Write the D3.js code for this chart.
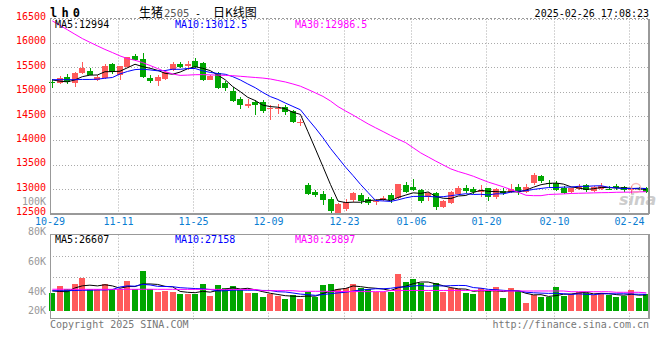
<!DOCTYPE html>
<html><head><meta charset="utf-8">
<script src="https://cdn.jsdelivr.net/npm/d3@7"></script>
<style>
body{margin:0;background:#fff}
svg{display:block}
text{font-family:"DejaVu Sans Mono","Liberation Mono",monospace;font-size:10px}
</style>
</head><body><svg id="c" width="660" height="360"></svg>
<script>
const dates = ["10-29","10-30","10-31","11-01","11-04","11-05","11-06","11-07","11-08","11-11","11-12","11-13","11-14","11-15","11-18","11-19","11-20","11-21","11-22","11-25","11-26","11-27","11-28","11-29","12-02","12-03","12-04","12-05","12-06","12-09","12-10","12-11","12-12","12-13","12-16","12-17","12-18","12-19","12-20","12-23","12-24","12-25","12-26","12-27","12-30","12-31","01-02","01-03","01-06","01-07","01-08","01-09","01-10","01-13","01-14","01-15","01-16","01-17","01-20","01-21","01-22","01-23","01-24","01-27","02-05","02-06","02-07","02-10","02-11","02-12","02-13","02-14","02-17","02-18","02-19","02-20","02-21","02-24","02-25","02-26"];
const open = [15195,15177,15294,15177,15382,15430,15245,15280,15573,15347,
 15499,15725,15669,15286,15224,15253,15444,15561,15526,15634,
 15579,15239,15376,15171,15013,14843,14699,14781,14787,14650,
 14640,14685,14596,14370,13091,12941,12907,12791,12517,12593,
 12778,12880,12791,12740,12770,12870,12820,13085,13050,12982,
 12845,12915,12627,12709,12900,13030,12996,12948,13016,12830,
 12969,12948,13050,12948,13120,13270,13135,13119,13016,12948,
 12996,13085,12969,12996,13010,13071,13050,12990,13030,13030];
const high = [15265,15327,15362,15403,15608,15485,15335,15567,15587,15530,
 15710,15772,15792,15341,15341,15423,15602,15614,15634,15696,
 15602,15340,15409,15218,15101,14890,14843,14822,14822,14732,
 14753,14720,14617,14445,13132,12989,12955,12839,12722,12800,
 12950,12920,12840,12800,12850,12920,13110,13140,13208,13000,
 12950,12948,12780,12960,13070,13080,13040,13075,13030,13030,
 13020,13106,13100,13100,13325,13300,13190,13160,13060,13030,
 13110,13110,13060,13130,13060,13100,13070,13060,13050,13050];
const low = [15075,15157,15157,15089,15362,15335,15224,15265,15368,15245,
 15490,15634,15280,15171,15122,15240,15430,15479,15444,15491,
 15218,15230,15048,15013,14794,14650,14664,14527,14560,14412,
 14547,14520,14357,14295,12874,12839,12681,12517,12500,12560,
 12740,12700,12680,12680,12750,12720,12800,12920,12960,12720,
 12760,12572,12610,12700,12880,12920,12900,12845,12760,12800,
 12880,12930,12880,12920,13085,13130,13050,12960,12900,12930,
 12990,12940,12950,12980,12980,12990,12950,12900,12980,12930];
const close = [15190,15280,15198,15382,15485,15347,15294,15532,15397,15520,
 15704,15655,15294,15224,15306,15397,15567,15511,15567,15511,
 15239,15327,15068,15068,14814,14720,14746,14732,14603,14665,
 14655,14582,14377,14385,12894,12874,12771,12545,12689,12743,
 12915,12763,12710,12750,12820,12770,13100,12948,12982,12763,
 12915,12640,12763,12948,13030,12969,12948,12982,12845,13000,
 12915,12996,12948,13037,13300,13173,13130,12982,12928,13016,
 13064,12982,13050,13064,12995,13030,12990,13000,13000,12950];
const volume = [30100,41800,35600,45100,55100,35600,35600,45100,35600,35600,
 49600,35600,66800,35600,31700,33400,31700,28400,28400,28400,
 45100,24500,42900,38400,41200,34500,30100,30100,22800,27800,
 24500,20000,26200,20000,31700,23400,42900,44500,36200,38400,
 44500,37300,35600,31700,31700,31700,61300,47900,52900,45600,
 31700,46200,31700,37300,35600,29500,27800,37300,33400,39500,
 21700,37900,32900,13400,26200,23400,23400,39500,25100,27800,
 31700,29500,26200,29500,25600,23400,24500,34500,21700,27800];
// moving averages: values before enough in-window data
const ma5Head = [15240,15215,15200,15240];
const ma10Head = [15245,15245,15245,15245,15250,15250,15255,15275,15290];
const ma30 = [16451,16361,16270,16178,16088,16012,15938,15866,15801,15733,
 15678,15643,15596,15536,15474,15413,15362,15333,15339,15347,
 15349,15343,15339,15333,15327,15315,15302,15290,15278,15259,
 15228,15198,15157,15111,15044,14974,14902,14808,14693,14603,
 14519,14428,14338,14258,14180,14100,14024,13953,13848,13743,
 13659,13575,13495,13415,13360,13315,13264,13202,13143,13095,
 13046,12991,12935,12874,12866,12866,12890,12896,12902,12911,
 12915,12919,12923,12927,12929,12935,12937,12939,12943,12948];
const volMa5Head = [32900,32100,31700,37900];
const volMa10Head = [33400,33400,33400,33700,34100,34200,34600,34600,35400];
const volMa30 = [35800,35800,35800,35700,35700,35700,35700,35700,35700,35700,
 35700,35700,35800,35800,35700,35700,35700,35600,35600,35600,
 35600,35600,35600,35600,35500,35500,35500,35400,33400,33400,
 33400,33400,33400,32400,32400,32400,32400,32200,32200,32000,
 32000,31900,31800,31800,31700,33800,33800,33800,33800,33800,
 33800,33800,33800,33800,33800,33800,33800,33800,33800,33800,
 32900,32900,32900,32900,32900,32900,32900,32900,32900,31700,
 31700,31700,31700,31700,31700,30700,30700,30700,30700,29897];
const priceTicks = [16500,16000,15500,15000,14500,14000,13500,13000,12500];
const volTicks = [100000,80000,60000,40000,20000];
const volTickLabels = ["100K","80K","60K","40K","20K"];
const dateTicks = ["10-29","11-11","11-25","12-09","12-23","01-06","01-20","02-10","02-24"];
const maLabels = ["MA5:12994","MA10:13012.5","MA30:12986.5"];
const volMaLabels = ["MA5:26607","MA10:27158","MA30:29897"];

function movingAvg(arr, n, head){
  return arr.map((_, i) => i < n-1 ? head[i] : d3.mean(arr.slice(i-n+1, i+1)));
}

const svg = d3.select("#c");
const L = 50, R = 649, pTop = 18.5, pBot = 213.5, vTop = 234.7, vBot = 318.3;
const x = d3.scalePoint().domain(dates).range([52.3, 646.3]);
const y = d3.scaleLinear().domain([12500,16500]).range([pBot, pTop]);
const yv = d3.scaleLinear().domain([0,100000]).range([310.7, 250.8]);
const yvLabel = d3.scaleLinear().domain([20000,100000]).range([321,201]);
const cx = d => Math.round(x(d));
const RED = "#ff5a5a", GREEN = "#00a600", GRID = "#aaa";

// header
svg.append("text").attr("x",50).attr("y",16.5).attr("font-weight","bold").style("font-size","12px")
  .attr("textLength",30).text("l h 0");
const title = svg.append("text").attr("y",17);
title.append("tspan").attr("x",139).style("font-family","'Noto Sans CJK SC'").style("font-size","12px").text("生猪");
title.append("tspan").attr("x",164).attr("fill","#555").style("font-size","10.5px").text("2505");
title.append("tspan").attr("x",195).style("font-size","10px").text("-");
title.append("tspan").attr("x",213).style("font-family","'Noto Sans CJK SC'").style("font-size","12px").text("日K线图");
svg.append("text").attr("x",649).attr("y",16.5).attr("text-anchor","end").text("2025-02-26 17:08:23");

// price grid
svg.append("g").selectAll("line").data(priceTicks.filter(t => t > 12500)).join("line")
  .attr("x1",L).attr("x2",R).attr("y1",d=>Math.round(y(d))+0.5).attr("y2",d=>Math.round(y(d))+0.5)
  .attr("stroke",GRID).attr("stroke-dasharray","1,2");
const vGrid = dateTicks.slice(1);
svg.append("g").selectAll("line").data(vGrid).join("line")
  .attr("x1",d=>cx(d)-1.5).attr("x2",d=>cx(d)-1.5).attr("y1",pTop).attr("y2",pBot)
  .attr("stroke",GRID).attr("stroke-dasharray","1,2");
// volume grid
[1,2].forEach(k=>{
  const yy = Math.round(vTop + (vBot - vTop) * k / 4) + 0.5;
  svg.append("line").attr("x1",L).attr("x2",R).attr("y1",yy).attr("y2",yy)
    .attr("stroke",GRID).attr("stroke-dasharray","1,2");
});
svg.append("g").selectAll("line").data(vGrid).join("line")
  .attr("x1",d=>cx(d)-1.5).attr("x2",d=>cx(d)-1.5).attr("y1",vTop).attr("y2",321)
  .attr("stroke",GRID).attr("stroke-dasharray","1,2");

// price axis labels
svg.append("g").selectAll("text").data(priceTicks).join("text")
  .attr("x",46).attr("y",d=>y(d)+1.5).attr("text-anchor","end").attr("fill","#f00").text(d=>d);
// volume axis labels
svg.append("g").selectAll("text").data(volTicks).join("text")
  .attr("x",46).attr("y",d=>Math.min(yvLabel(d),310)+3.5).attr("text-anchor","end").attr("fill","#999")
  .text((d,i)=>volTickLabels[i]);
// date labels
svg.append("g").selectAll("text").data(dateTicks).join("text")
  .attr("x",(d,i)=> i===0 ? L : cx(d)-1.5).attr("y",225).attr("text-anchor","middle").attr("fill","#0a7dd2").text(d=>d);

// candles
const cg = svg.append("g").attr("shape-rendering","crispEdges");
dates.forEach((d,i)=>{
  const c = close[i] > open[i] ? RED : (close[i] < open[i] ? GREEN : RED);
  const X = cx(d);
  cg.append("rect").attr("x",X).attr("width",1).attr("y",y(high[i])).attr("height",Math.max(1,y(low[i])-y(high[i]))).attr("fill",c);
  const top = y(Math.max(open[i],close[i])), bot = y(Math.min(open[i],close[i]));
  cg.append("rect").attr("x",X-3).attr("width",6).attr("y",top).attr("height",Math.max(1,bot-top)).attr("fill",c);
});

// MA lines price
svg.append("clipPath").attr("id","pc").append("rect").attr("x",L).attr("y",pTop).attr("width",R-L).attr("height",pBot-pTop);
const line = d3.line().x((v,i)=>x(dates[i])).y(v=>y(v));
const pMA = [[movingAvg(close,5,ma5Head),"#000"],[movingAvg(close,10,ma10Head),"#0000ff"],[ma30,"#ff00ff"]];
pMA.forEach(([arr,col])=>{
  svg.append("path").attr("clip-path","url(#pc)").attr("d",line(arr)).attr("fill","none").attr("stroke",col).attr("stroke-width",1);
});

// sina watermark
svg.append("circle").attr("cx",636).attr("cy",188).attr("r",4.5).attr("fill","none").attr("stroke","#f2a0a0").attr("stroke-width",1.5).attr("opacity",0.7);
svg.append("text").attr("x",619).attr("y",205).attr("fill","#bbb").attr("opacity",0.75)
  .style("font-family","'DejaVu Sans',sans-serif").style("font-size","16px").style("font-weight","bold").style("font-style","italic").text("sina");

// volume bars
const vg = svg.append("g").attr("shape-rendering","crispEdges");
dates.forEach((d,i)=>{
  const c = close[i] > open[i] ? RED : (close[i] < open[i] ? GREEN : RED);
  const X = cx(d);
  vg.append("rect").attr("x",X-3).attr("width",6).attr("y",yv(volume[i])).attr("height",yv(0)-yv(volume[i])).attr("fill",c);
});
const vline = d3.line().x((v,i)=>x(dates[i])).y(v=>yv(v));
[[movingAvg(volume,5,volMa5Head),"#000"],[movingAvg(volume,10,volMa10Head),"#0000ff"],[volMa30,"#ff00ff"]].forEach(([arr,col])=>{
  svg.append("path").attr("d",vline(arr)).attr("fill","none").attr("stroke",col).attr("stroke-width",1);
});

// frames
const fr = svg.append("g").attr("fill","none").attr("stroke","#999").attr("shape-rendering","crispEdges");
fr.append("line").attr("x1",L).attr("x2",R).attr("y1",18.5).attr("y2",18.5).attr("stroke-dasharray","2,2");
fr.append("path").attr("d",`M${L+0.5},${pTop}V${pBot+0.5}H${R}`).attr("stroke-width",1.5);
fr.append("line").attr("x1",R).attr("x2",R).attr("y1",pTop).attr("y2",pBot).attr("stroke-width",2);
fr.append("rect").attr("x",L+0.5).attr("y",vTop).attr("width",R-L-0.5).attr("height",vBot-vTop).attr("stroke-width",1.5);
fr.append("line").attr("x1",R).attr("x2",R).attr("y1",vTop).attr("y2",vBot).attr("stroke-width",2);

// MA labels
const maCols = ["#000","#0000ff","#ff00ff"], maX = [55,175,295];
maLabels.forEach((t,i)=> svg.append("text").attr("x",maX[i]).attr("y",27.5).attr("fill",maCols[i]).text(t));
volMaLabels.forEach((t,i)=> svg.append("text").attr("x",maX[i]).attr("y",242.5).attr("fill",maCols[i]).text(t));

// footer
svg.append("text").attr("x",50).attr("y",327.5).attr("fill","#777").text("Copyright 2025 SINA.COM");
svg.append("text").attr("x",649).attr("y",327.5).attr("text-anchor","end").attr("fill","#777").text("http://finance.sina.com.cn");
</script></body></html>
